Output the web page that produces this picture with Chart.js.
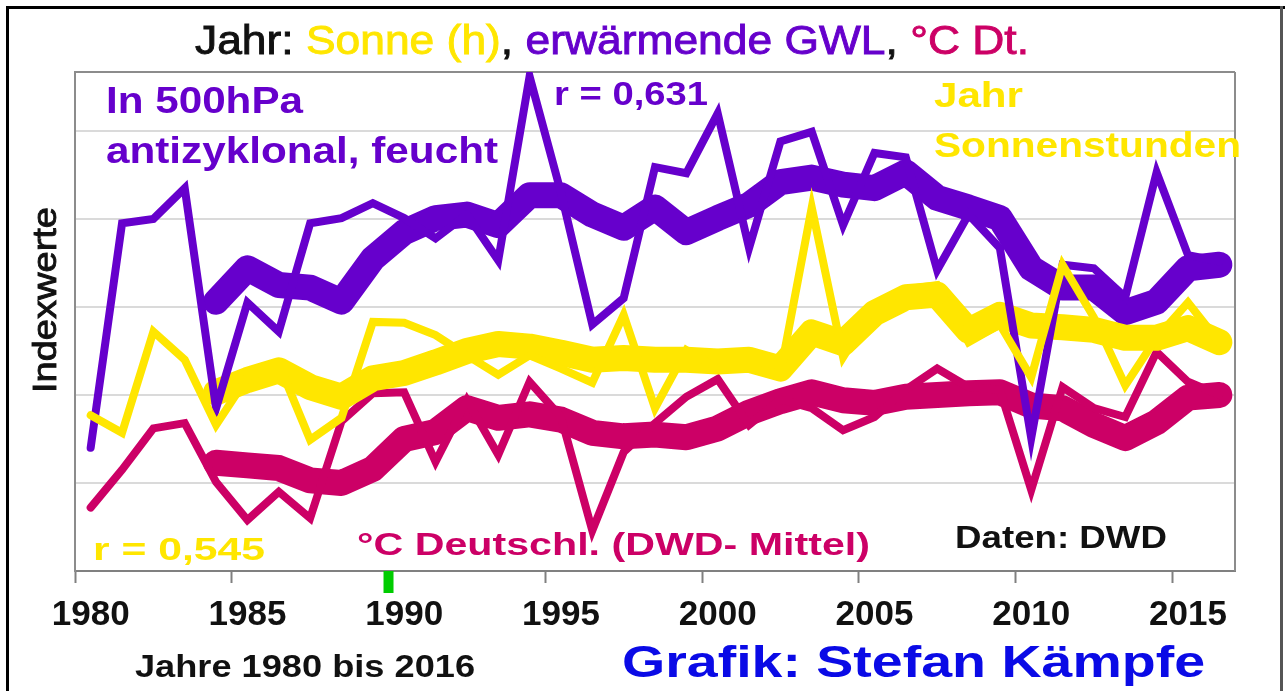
<!DOCTYPE html>
<html>
<head>
<meta charset="utf-8">
<script src="https://cdn.jsdelivr.net/npm/chart.js@4.4.1/dist/chart.umd.min.js"></script>
<style>
  html, body { margin: 0; padding: 0; background: #fff; }
</style>
</head>
<body>
<canvas id="myChart" width="1285" height="691"></canvas>
<script>
// Jahre (Kategorien)
const years = [1980, 1981, 1982, 1983, 1984, 1985, 1986, 1987, 1988, 1989,
               1990, 1991, 1992, 1993, 1994, 1995, 1996, 1997, 1998, 1999,
               2000, 2001, 2002, 2003, 2004, 2005, 2006, 2007, 2008, 2009,
               2010, 2011, 2012, 2013, 2014, 2015, 2016];

// Indexwerte
const gwl = [1.40, 3.95, 4.00, 4.35, 1.85, 3.05, 2.72, 3.95, 4.01, 4.18,
             4.01, 3.78, 4.05, 3.53, 5.62, 4.30, 2.80, 3.10, 4.59, 4.52,
             5.20, 3.67, 4.88, 4.99, 3.93, 4.75, 4.70, 3.42, 4.05, 3.67,
             1.51, 3.48, 3.44, 3.11, 4.53, 3.59, 3.52];
const gwlAvg = [null, null, null, null, 3.06, 3.44, 3.25, 3.22, 3.06, 3.55,
                3.85, 4.01, 4.05, 3.93, 4.27, 4.27, 4.05, 3.90, 4.13, 3.85,
                4.01, 4.16, 4.42, 4.47, 4.39, 4.35, 4.53, 4.24, 4.13, 4.01,
                3.44, 3.22, 3.22, 2.94, 3.06, 3.44, 3.48];

const sun = [1.77, 1.57, 2.72, 2.40, 1.66, 2.20, 2.35, 1.49, 1.74, 2.83,
             2.82, 2.68, 2.45, 2.23, 2.45, 2.30, 2.14, 2.91, 1.85, 2.51,
             2.30, 2.30, 2.25, 4.13, 2.43, 3.00, 3.20, 3.25, 2.60, 2.80,
             2.20, 3.48, 2.88, 2.11, 2.65, 3.05, 2.60];
const sunAvg = [null, null, null, null, 2.03, 2.17, 2.28, 2.09, 1.98, 2.19,
                2.25, 2.37, 2.50, 2.58, 2.55, 2.48, 2.40, 2.42, 2.40, 2.40,
                2.38, 2.40, 2.30, 2.71, 2.59, 2.93, 3.11, 3.14, 2.73, 2.91,
                2.79, 2.77, 2.74, 2.65, 2.65, 2.76, 2.60];

const temp = [0.72, 1.15, 1.62, 1.68, 1.01, 0.58, 0.90, 0.60, 1.70, 2.02,
              2.03, 1.24, 1.94, 1.32, 2.15, 1.75, 0.46, 1.35, 1.68, 1.98,
              2.18, 1.66, 1.95, 1.85, 1.60, 1.75, 2.06, 2.30, 2.09, 2.06,
              0.92, 2.09, 1.85, 1.75, 2.49, 2.15, 2.00];
const tempAvg = [null, null, null, null, 1.23, 1.20, 1.17, 1.03, 1.00, 1.16,
                 1.50, 1.58, 1.85, 1.74, 1.78, 1.72, 1.57, 1.53, 1.55, 1.52,
                 1.62, 1.80, 1.93, 2.03, 1.94, 1.91, 1.98, 2.00, 2.02, 2.03,
                 1.88, 1.85, 1.66, 1.51, 1.69, 1.97, 2.00];

const PURPLE = '#6600cc';
const YELLOW = '#ffe600';
const MAGENTA = '#cc0066';
const FONT = '"Liberation Sans", Arial, sans-serif';

// Text auf Zielbreite gestaucht/gestreckt zeichnen
function fitText(ctx, text, x, y, size, weight, color, width, stroke) {
    ctx.save();
    ctx.font = weight + ' ' + size + 'px ' + FONT;
    const w = ctx.measureText(text).width;
    ctx.translate(x, y);
    ctx.scale(width / w, 1);
    ctx.fillStyle = color;
    ctx.textBaseline = 'alphabetic';
    ctx.fillText(text, 0, 0);
    if (stroke) {
        ctx.strokeStyle = color;
        ctx.lineWidth = stroke;
        ctx.strokeText(text, 0, 0);
    }
    ctx.restore();
}

const decor = {
    id: 'decor',
    beforeDatasetsDraw(chart) {
        const { ctx, chartArea: a } = chart;
        ctx.save();
        ctx.strokeStyle = '#8c8c8c';
        ctx.lineWidth = 2;
        ctx.beginPath();
        ctx.moveTo(a.right, a.top);
        ctx.lineTo(a.right, a.bottom);
        ctx.stroke();
        ctx.restore();
    },
    afterDraw(chart) {
        const { ctx, chartArea: a } = chart;
        const xs = chart.scales.x;

        // gruener Strich bei 1990
        const gx = (xs.getPixelForValue(9) + xs.getPixelForValue(10)) / 2;
        ctx.fillStyle = '#00cc00';
        ctx.fillRect(gx - 5, a.bottom, 10, 22);

        // Titel, mehrfarbig
        const parts = [['Jahr: ', '#111'], ['Sonne (h)', YELLOW], [', ', '#111'],
                       ['erwärmende GWL', PURPLE], [', ', '#111'], ['°C Dt.', MAGENTA]];
        ctx.save();
        ctx.font = 'normal 41px ' + FONT;
        const total = parts.reduce((s, p) => s + ctx.measureText(p[0]).width, 0);
        ctx.translate(195, 54);
        ctx.scale(834 / total, 1);
        ctx.lineWidth = 0.9;
        let px = 0;
        parts.forEach(p => {
            ctx.fillStyle = p[1];
            ctx.strokeStyle = p[1];
            ctx.fillText(p[0], px, 0);
            ctx.strokeText(p[0], px, 0);
            px += ctx.measureText(p[0]).width;
        });
        ctx.restore();

        fitText(ctx, 'In 500hPa', 106, 113, 36, 'bold', PURPLE, 197);
        fitText(ctx, 'antizyklonal, feucht', 106, 163, 36, 'bold', PURPLE, 392);
        fitText(ctx, 'r = 0,631', 554, 105, 33, 'bold', PURPLE, 154);
        fitText(ctx, 'Jahr', 934, 107, 35, 'bold', YELLOW, 89);
        fitText(ctx, 'Sonnenstunden', 934, 157, 35, 'bold', YELLOW, 307);
        fitText(ctx, 'r = 0,545', 93, 560, 32, 'bold', YELLOW, 172);
        fitText(ctx, '°C Deutschl. (DWD- Mittel)', 357, 555, 32, 'bold', MAGENTA, 513);
        fitText(ctx, 'Daten: DWD', 955, 548, 32, 'bold', '#111', 212);
        fitText(ctx, 'Jahre 1980 bis 2016', 135, 677, 31, 'bold', '#111', 340);
        fitText(ctx, 'Grafik: Stefan Kämpfe', 622, 677, 44, 'bold', '#0a0ae6', 583);

        // y-Achsentitel
        ctx.save();
        ctx.translate(56, 393);
        ctx.rotate(-Math.PI / 2);
        ctx.font = 'normal 34px ' + FONT;
        const iw = ctx.measureText('Indexwerte').width;
        ctx.scale(186 / iw, 1);
        ctx.fillStyle = '#111';
        ctx.strokeStyle = '#111';
        ctx.lineWidth = 0.9;
        ctx.fillText('Indexwerte', 0, 0);
        ctx.strokeText('Indexwerte', 0, 0);
        ctx.restore();

        // Bildrahmen
        ctx.fillStyle = '#000';
        ctx.fillRect(6, 6, 1279, 3);
        ctx.fillRect(6, 6, 3, 685);
        ctx.fillStyle = '#555';
        ctx.fillRect(1280, 6, 3, 685);
    }
};

const thin = (label, data, color) => ({
    label, data, borderColor: color, backgroundColor: color,
    borderWidth: 8, borderJoinStyle: 'miter', borderCapStyle: 'round'
});
const thick = (label, data, color) => ({
    label, data, borderColor: color, backgroundColor: color,
    borderWidth: 26, borderJoinStyle: 'round', borderCapStyle: 'round'
});

const ctx = document.getElementById('myChart');
const myChart = new Chart(ctx, {
    type: 'line',
    data: {
        labels: years,
        datasets: [
            thin('Sonne', sun, YELLOW),
            thin('GWL', gwl, PURPLE),
            thick('Sonne Mittel', sunAvg, YELLOW),
            thick('GWL Mittel', gwlAvg, PURPLE),
            thin('°C', temp, MAGENTA),
            thick('°C Mittel', tempAvg, MAGENTA)
        ]
    },
    options: {
        responsive: false,
        animation: false,
        layout: { padding: { left: 75, top: 72, right: 50, bottom: 0 } },
        elements: {
            point: { radius: 0, hitRadius: 0 },
            line: { tension: 0, fill: false }
        },
        plugins: {
            legend: { display: false },
            tooltip: { enabled: false },
            title: { display: false }
        },
        scales: {
            x: {
                type: 'category',
                offset: true,
                grid: {
                    offset: true,
                    drawOnChartArea: false,
                    drawTicks: true,
                    tickLength: 12,
                    tickWidth: 2,
                    tickColor: c => c.index % 5 === 0 ? '#808080' : 'rgba(0,0,0,0)'
                },
                border: { color: '#808080', width: 2 },
                ticks: {
                    autoSkip: false,
                    maxRotation: 0,
                    minRotation: 0,
                    padding: 11,
                    color: '#111',
                    font: { family: FONT, size: 35, weight: 'bold' },
                    callback: (v, i) => i % 5 === 0 ? String(years[i]) : ''
                },
                afterFit: s => { s.height = 120; }
            },
            y: {
                min: 0,
                max: 5.67,
                ticks: { display: false, stepSize: 1 },
                grid: {
                    color: c => c.tick && c.tick.value > 5.5 ? '#8c8c8c' : '#dadada',
                    lineWidth: 2,
                    drawTicks: false
                },
                border: { color: '#8c8c8c', width: 2 },
                afterFit: s => { s.width = 0; }
            }
        }
    },
    plugins: [decor]
});
</script>
</body>
</html>
